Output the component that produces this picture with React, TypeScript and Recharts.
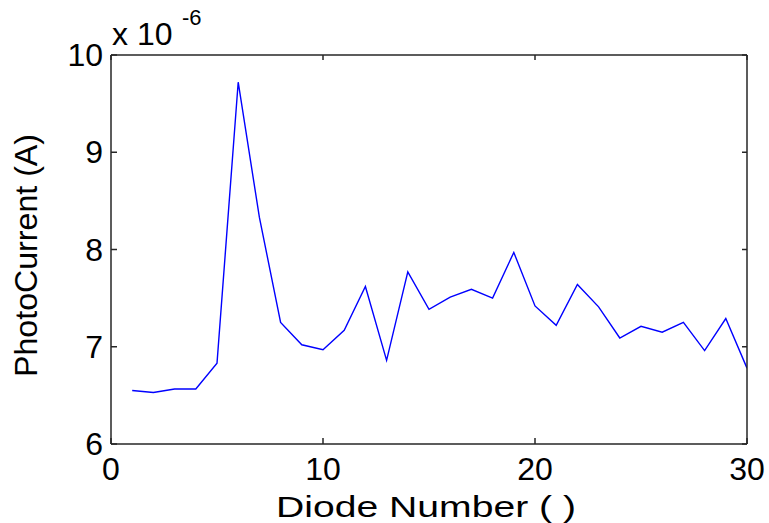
import React from 'react';
import { LineChart, Line, XAxis, YAxis } from 'recharts';

const diodeNumbers = [1, 2, 3, 4, 5, 6, 7, 8, 9, 10, 11, 12, 13, 14, 15, 16, 17, 18, 19, 20, 21, 22, 23, 24, 25, 26, 27, 28, 29, 30];
// PhotoCurrent in units of 1e-6 A
const photoCurrent = [6.55, 6.53, 6.565, 6.565, 6.83, 9.72, 8.33, 7.25, 7.02, 6.97, 7.17, 7.62, 6.86, 7.77, 7.385, 7.51, 7.59, 7.5, 7.97, 7.42, 7.22, 7.64, 7.41, 7.09, 7.21, 7.15, 7.25, 6.96, 7.29, 6.78];
const xTicks = [0, 10, 20, 30];
const yTicks = [6, 7, 8, 9, 10];
const xLabel = 'Diode Number ( )';
const yLabel = 'PhotoCurrent (A)';
const exponentBase = 'x 10';
const exponent = '-6';

const data = diodeNumbers.map((d, i) => ({ x: d, y: photoCurrent[i] }));

const FONT = '"Liberation Sans", Arial, Helvetica, sans-serif';
const AXIS = '#262626';

const BottomTick = (props: any) => {
  const { x, y, payload } = props;
  // axis line is 13px above the label anchor
  return (
    <g>
      <line x1={x} x2={x} y1={y - 13} y2={y - 19} stroke={AXIS} strokeWidth={1.5} />
      <text x={x} y={y + 23} textAnchor="middle" fontFamily={FONT} fontSize={32} fill="#000">
        {payload.value}
      </text>
    </g>
  );
};

const LeftTick = (props: any) => {
  const { x, y, payload } = props;
  return (
    <g>
      <line x1={x + 8} x2={x + 14} y1={y} y2={y} stroke={AXIS} strokeWidth={1.5} />
      <text x={x} y={y + 11} textAnchor="end" fontFamily={FONT} fontSize={32} fill="#000">
        {payload.value}
      </text>
    </g>
  );
};

const YTitle = (props: any) => {
  const vb = props.viewBox || {};
  const ax = vb.x + vb.width;
  const cx = ax - 74;
  const cy = vb.y + vb.height / 2 + 6;
  return (
    <g>
      <text
        x={cx}
        y={cy}
        transform={`rotate(-90, ${cx}, ${cy})`}
        textAnchor="middle"
        fontFamily={FONT}
        fontSize={32}
        fill="#000"
        textLength={243}
        lengthAdjust="spacingAndGlyphs"
      >
        {yLabel}
      </text>
      <text x={ax + 1} y={vb.y - 10} fontFamily={FONT} fontSize={32} fill="#000">
        {exponentBase}
      </text>
      <text x={ax + 71} y={vb.y - 30} fontFamily={FONT} fontSize={22} fill="#000">
        {exponent}
      </text>
    </g>
  );
};

const XTitle = (props: any) => {
  const vb = props.viewBox || {};
  const cx = vb.x + vb.width / 2 - 3;
  return (
    <text
      x={cx}
      y={vb.y + 73}
      textAnchor="middle"
      fontFamily={FONT}
      fontSize={30}
      fill="#000"
      textLength={300}
      lengthAdjust="spacingAndGlyphs"
    >
      {xLabel}
    </text>
  );
};

export default function App() {
  return (
    <div style={{ position: 'absolute', left: 0, top: 0, background: '#fff' }}>
      <LineChart width={769} height={523} data={data} margin={{ top: 54, right: 21, bottom: 78, left: 110 }}>
        <XAxis
          xAxisId="bottom"
          dataKey="x"
          type="number"
          domain={[0, 30]}
          ticks={xTicks}
          height={1}
          orientation="bottom"
          tickSize={-5}
          tickMargin={18}
          tickLine={false}
          stroke={AXIS}
          strokeWidth={1.5}
          tick={<BottomTick />}
          interval={0}
          allowDataOverflow
          label={{ content: XTitle }}
        />
        <XAxis
          xAxisId="top"
          dataKey="x"
          type="number"
          domain={[0, 30]}
          ticks={xTicks}
          height={1}
          orientation="top"
          tickSize={-5}
          stroke={AXIS}
          strokeWidth={1.5}
          tickFormatter={() => ''}
          interval={0}
          allowDataOverflow
        />
        <YAxis
          yAxisId="left"
          type="number"
          domain={[6, 10]}
          ticks={yTicks}
          width={1}
          orientation="left"
          tickSize={-5}
          tickMargin={13}
          tickLine={false}
          stroke={AXIS}
          strokeWidth={1.5}
          tick={<LeftTick />}
          interval={0}
          allowDataOverflow
          label={{ content: YTitle }}
        />
        <YAxis
          yAxisId="right"
          type="number"
          domain={[6, 10]}
          ticks={yTicks}
          width={1}
          orientation="right"
          tickSize={-5}
          stroke={AXIS}
          strokeWidth={1.5}
          tickFormatter={() => ''}
          interval={0}
          allowDataOverflow
        />
        <Line
          xAxisId="bottom"
          yAxisId="left"
          type="linear"
          dataKey="y"
          stroke="#0000ff"
          strokeWidth={1.4}
          dot={false}
          isAnimationActive={false}
        />
      </LineChart>
    </div>
  );
}
